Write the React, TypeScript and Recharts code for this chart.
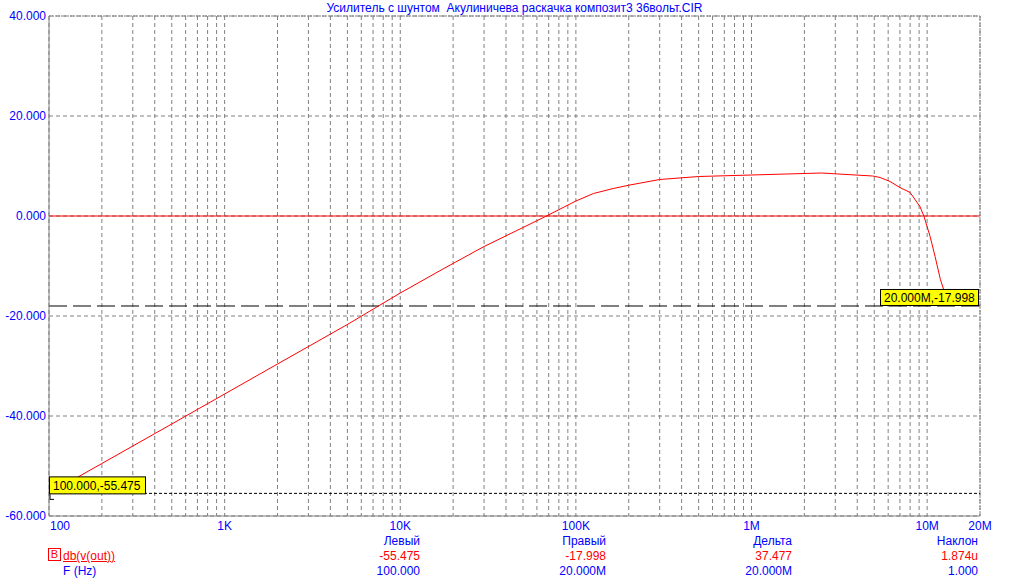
import React from "react";
import {
  ComposedChart,
  Line,
  XAxis,
  YAxis,
  CartesianGrid,
  ReferenceLine,
  ReferenceDot,
} from "recharts";

// ---- data ----
const freqs = [
  100, 200, 500, 1000, 2000, 5000, 10000, 17500, 30000, 50000, 68000, 100000,
  126000, 163000, 203000, 300000, 500000, 1000000, 2500000, 4900000, 5400000,
  6150000, 7000000, 8000000, 9100000, 9600000, 10400000, 11100000, 11900000,
  12500000, 14000000, 20000000,
];
const dbValues = [
  -55.475, -49.5, -41.6, -35.6, -29.6, -21.7, -15.4, -10.6, -6.1, -2.3, 0, 3.0,
  4.5, 5.5, 6.2, 7.3, 7.9, 8.2, 8.6, 8.0, 7.7, 6.9, 5.7, 4.7, 1.9, -0.1, -4.1,
  -8.1, -12.7, -15.0, -16.6, -17.998,
];

const xLabelValues = [100, 1000, 10000, 100000, 1000000, 10000000, 20000000];
const xLabelTexts = ["100", "1K", "10K", "100K", "1M", "10M", "20M"];
const yTicks = [-60, -40, -20, 0, 20, 40];

const title = "Усилитель с шунтом  Акулиничева раскачка композит3 36вольт.CIR";
const cursorLeft = { f: 100, db: -55.475, text: "100.000,-55.475" };
const cursorRight = { f: 20000000, db: -17.998, text: "20.000M,-17.998" };

const tableHeaders = ["Левый", "Правый", "Дельта", "Наклон"];
const tableDb = ["-55.475", "-17.998", "37.477", "1.874u"];
const tableF = ["100.000", "20.000M", "20.000M", "1.000"];
const seriesName = "db(v(out))";
const xName = "F (Hz)";

// grid positions (1..9 per decade)
const gridTicks: number[] = [];
for (let d = 100; d <= 10000000; d *= 10) {
  for (let k = 1; k <= 9; k++) {
    const v = d * k;
    if (v <= 20000000) gridTicks.push(v);
  }
}

const data = freqs.map((f, i) => ({ f, db: dbValues[i] }));

const BLUE = "#0000ff";
const RED = "#ff0000";
const FONT = "Arial, 'Liberation Sans', sans-serif";

const XTick = (props: any) => {
  const { x, y, payload } = props;
  const idx = xLabelValues.indexOf(payload.value);
  if (idx < 0) return <g />;
  return (
    <text
      x={payload.value === 100 ? x + 1 : x}
      y={y + 14}
      fill={BLUE}
      fontSize={12}
      fontFamily={FONT}
      textAnchor={payload.value === 100 ? "start" : "middle"}
    >
      {xLabelTexts[idx]}
    </text>
  );
};

const LeftLabel = (props: any) => {
  const { cx, cy } = props;
  if (cx == null || cy == null) return <g />;
  return (
    <g>
      <path d={`M${cx + 1} ${cy + 1} V${cy + 6} H${cx + 5}`} stroke="#000" fill="none" strokeWidth={1} />
      <rect x={cx + 0.5} y={cy - 16.5} width={96} height={17} fill="#ffff00" stroke="#000" strokeWidth={1} />
      <text x={cx + 4} y={cy - 3.5} fontSize={12} fontFamily={FONT} fill="#000">
        {cursorLeft.text}
      </text>
    </g>
  );
};

const RightLabel = (props: any) => {
  const { cx, cy } = props;
  if (cx == null || cy == null) return <g />;
  return (
    <g>
      <rect x={cx - 99.5} y={cy - 16.5} width={98} height={16} fill="#ffff00" stroke="#000" strokeWidth={1} />
      <text x={cx - 96} y={cy - 4} fontSize={12} fontFamily={FONT} fill="#000">
        {cursorRight.text}
      </text>
    </g>
  );
};

const cellStyle = (right: number, top: number, color: string): React.CSSProperties => ({
  position: "absolute",
  right: 1012 - right,
  top,
  color,
  fontSize: 12,
  lineHeight: "14px",
  fontFamily: FONT,
  whiteSpace: "nowrap",
  textAlign: "right",
});

const colRights = [420, 606, 792, 978];

export default function App() {
  return (
    <div
      style={{
        position: "absolute",
        left: 0,
        top: 0,
        width: 1012,
        height: 584,
        background: "#fff",
        overflow: "hidden",
      }}
    >
      <div
        style={{
          position: "absolute",
          left: 49,
          width: 931,
          top: 1,
          textAlign: "center",
          color: BLUE,
          fontSize: 12,
          lineHeight: "14px",
          fontFamily: FONT,
          whiteSpace: "pre",
        }}
      >
        {title}
      </div>
      <ComposedChart
        width={1012}
        height={584}
        data={data}
        margin={{ top: 16, right: 32, bottom: 0, left: 0 }}
      >
        <CartesianGrid stroke="#808080" strokeDasharray="4 3" />
        <XAxis
          dataKey="f"
          type="number"
          scale="log"
          domain={[100, 20000000]}
          allowDataOverflow
          ticks={gridTicks}
          interval={0}
          tick={<XTick />}
          tickLine={false}
          tickSize={0}
          tickMargin={0}
          height={68}
          axisLine={{ stroke: "#808080" }}
        />
        <YAxis
          type="number"
          domain={[-60, 40]}
          ticks={yTicks}
          interval={0}
          width={49}
          tickLine={false}
          tickSize={0}
          tickMargin={3}
          tickFormatter={(v: number) => v.toFixed(3)}
          tick={{ fill: BLUE, fontSize: 12, fontFamily: FONT }}
          axisLine={{ stroke: "#808080" }}
        />
        <ReferenceLine y={40} stroke="#808080" strokeDasharray="2 1" />
        <ReferenceLine x={20000000} stroke="#808080" strokeDasharray="2 1" />
        <ReferenceLine y={0} stroke={RED} strokeWidth={1} />
        <ReferenceLine y={cursorRight.db} stroke="#000" strokeDasharray="18 6" />
        <ReferenceLine y={cursorLeft.db} stroke="#000" strokeDasharray="3 2" />
        <Line
          dataKey="db"
          type="linear"
          stroke={RED}
          strokeWidth={1}
          dot={false}
          isAnimationActive={false}
        />
        <ReferenceDot x={cursorLeft.f} y={cursorLeft.db} r={0} shape={<LeftLabel />} />
        <ReferenceDot x={cursorRight.f} y={cursorRight.db} r={0} shape={<RightLabel />} />
      </ComposedChart>

      {/* legend / measurement table */}
      <div
        style={{
          position: "absolute",
          left: 48,
          top: 548,
          width: 11,
          height: 11,
          border: `1px solid ${RED}`,
          color: RED,
          fontSize: 11,
          lineHeight: "11px",
          textAlign: "center",
          fontFamily: FONT,
        }}
      >
        B
      </div>
      <div
        style={{
          position: "absolute",
          left: 63,
          top: 549,
          color: RED,
          fontSize: 12,
          lineHeight: "14px",
          fontFamily: FONT,
          textDecoration: "underline",
        }}
      >
        {seriesName}
      </div>
      <div
        style={{
          position: "absolute",
          left: 63,
          top: 564,
          color: BLUE,
          fontSize: 12,
          lineHeight: "14px",
          fontFamily: FONT,
        }}
      >
        {xName}
      </div>
      {tableHeaders.map((h, i) => (
        <div key={"h" + i} style={cellStyle(colRights[i], 534, BLUE)}>
          {h}
        </div>
      ))}
      {tableDb.map((h, i) => (
        <div key={"d" + i} style={cellStyle(colRights[i], 549, RED)}>
          {h}
        </div>
      ))}
      {tableF.map((h, i) => (
        <div key={"f" + i} style={cellStyle(colRights[i], 564, BLUE)}>
          {h}
        </div>
      ))}
    </div>
  );
}
